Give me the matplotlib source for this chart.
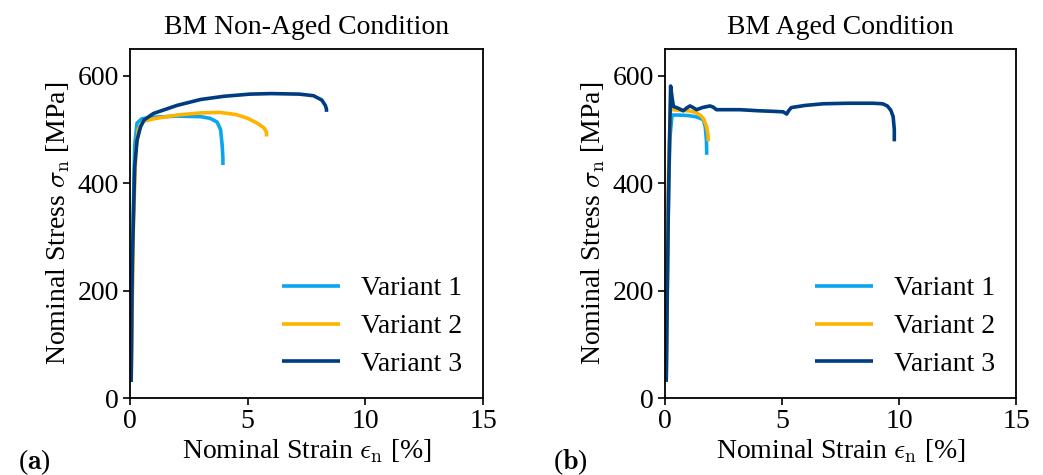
#!/usr/bin/env python3
# -*- coding: utf-8 -*-
"""
tensile tests BM, non-aged vs aged
"""

import numpy as np
import matplotlib
matplotlib.use("Agg")
import matplotlib.pyplot as plt

FS = 20

plt.rcParams['font.family']      = ['Liberation Serif', 'DejaVu Serif']
plt.rcParams['mathtext.fontset'] = 'cm'
plt.rcParams['font.size']        = FS


# data, strain in %, stress in MPa
###############################################################################
# non aged
na_strain_v1 = [0.05, 0.12, 0.2, 0.3, 0.5, 1.0, 2.0, 3.0, 3.4, 3.7, 3.85, 3.92, 3.95, 3.95]
na_stress_v1 = [30, 300, 470, 512, 520, 523, 525, 524, 521, 514, 500, 470, 445, 434]

na_strain_v2 = [0.05, 0.15, 0.25, 0.35, 0.55, 1.0, 2.0, 3.0, 3.8, 4.5, 5.0, 5.4, 5.7, 5.8, 5.8]
na_stress_v2 = [30, 330, 460, 500, 515, 520, 527, 531, 532, 528, 521, 512, 503, 495, 487]

na_strain_v3 = [0.05, 0.1, 0.2, 0.3, 0.45, 0.6, 1.0, 2.0, 3.0, 4.0, 5.1, 6.0, 7.2, 7.8, 8.15, 8.3, 8.35, 8.35]
na_stress_v3 = [30, 250, 430, 480, 505, 518, 530, 545, 556, 562, 566, 567, 566, 563, 555, 545, 538, 533]

# aged
ag_strain_v1 = [0.05, 0.12, 0.2, 0.3, 0.6, 1.0, 1.3, 1.5, 1.64, 1.72, 1.77, 1.78, 1.78]
ag_stress_v1 = [30, 300, 480, 527, 527, 526, 524, 521, 518, 505, 480, 460, 453]

ag_strain_v2 = [0.05, 0.15, 0.25, 0.33, 0.6, 1.0, 1.3, 1.5, 1.65, 1.78, 1.84, 1.85, 1.85]
ag_stress_v2 = [30, 420, 568, 537, 536, 535, 532, 527, 520, 505, 490, 482, 478]

ag_strain_v3 = [0.05, 0.15, 0.24, 0.3, 0.36, 0.55, 0.78, 0.95, 1.07, 1.2, 1.35, 1.6, 1.92, 2.05, 2.2,
                2.6, 3.2, 4.0, 4.6, 5.05, 5.2, 5.3, 5.4, 6.0, 6.76, 7.8, 8.9, 9.3, 9.5, 9.65, 9.75, 9.8, 9.8]
ag_stress_v3 = [30, 380, 581, 560, 543, 540, 535, 541, 544, 541, 537, 541, 544, 542, 537,
                537, 537, 535, 534, 533, 529, 536, 541, 545, 548, 549, 549, 548, 544, 536, 524, 500, 478]

labels = ["Variant 1", "Variant 2", "Variant 3"]
colors = ["#0aa5ee", "#ffb300", "#003c80"]


# plotting
###############################################################################
fig = plt.figure(figsize=(10.43, 4.75), dpi=100)

ax1 = fig.add_axes([0.1246, 0.1621, 0.3385, 0.7347])
ax2 = fig.add_axes([0.6376, 0.1621, 0.3365, 0.7347])

curves = [
    (ax1, [(na_strain_v1, na_stress_v1), (na_strain_v2, na_stress_v2), (na_strain_v3, na_stress_v3)],
     "BM Non-Aged Condition"),
    (ax2, [(ag_strain_v1, ag_stress_v1), (ag_strain_v2, ag_stress_v2), (ag_strain_v3, ag_stress_v3)],
     "BM Aged Condition"),
]

for ax, series, title in curves:
    for (x, y), lab, col in zip(series, labels, colors):
        ax.plot(x, y, color=col, lw=2.6, label=lab, solid_capstyle='butt')
    ax.set_xlim(0, 15)
    ax.set_ylim(0, 650)
    ax.set_xticks([0, 5, 10, 15])
    ax.set_yticks([0, 200, 400, 600])
    ax.tick_params(direction='out', length=5, width=1.2, labelsize=FS, pad=3)
    for sp in ax.spines.values():
        sp.set_linewidth(1.3)
    ax.set_title(title, fontsize=FS, pad=11)
    ax.set_xlabel(r"Nominal Strain $\epsilon_\mathrm{n}$ [%]", fontsize=FS, labelpad=2)
    ax.set_ylabel(r"Nominal Stress $\sigma_\mathrm{n}$ [MPa]", fontsize=FS, labelpad=4)
    ax.legend(loc='lower right', frameon=False, fontsize=FS, handlelength=2.1,
              handletextpad=0.75, labelspacing=0.45, borderaxespad=0.35)

# panel letters
fig.text(18 / 1043, 1 - 462 / 475, r"($\mathbf{a}$)", fontsize=FS, va='center')
fig.text(553 / 1043, 1 - 462 / 475, r"($\mathbf{b}$)", fontsize=FS, va='center')

fig.savefig("out.png", dpi=100)
